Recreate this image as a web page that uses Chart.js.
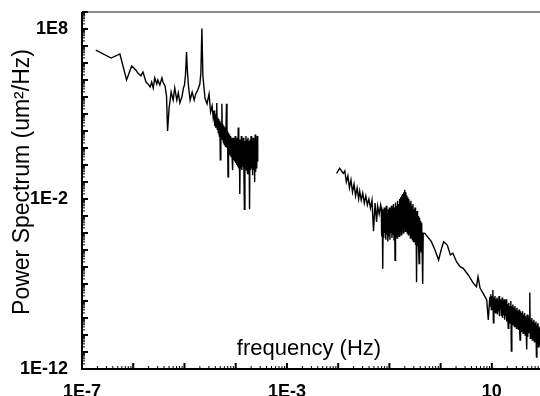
<!DOCTYPE html>
<html>
<head>
<meta charset="utf-8">
<script src="https://cdn.jsdelivr.net/npm/chart.js@4"></script>
<style>
    html, body { margin: 0; background: #fff; }
    #wrap { width: 540px; height: 396px; }
</style>
</head>
<body>
<div id="wrap"><canvas id="spectrumChart"></canvas></div>
<script>

// Low-frequency record: trend part
const lowTrendFreqExp = [
    -6.73, -6.43, -6.26, -6.13, -6.03, -5.95, -5.91, -5.85, -5.81, -5.75,
    -5.71, -5.67, -5.64, -5.61, -5.58, -5.54, -5.52, -5.48, -5.44, -5.42,
    -5.38, -5.35, -5.33, -5.30, -5.26, -5.22, -5.19, -5.15, -5.12, -5.09,
    -5.05, -5.02, -5.00, -4.98, -4.96, -4.94, -4.92, -4.89, -4.85, -4.81,
    -4.78, -4.74, -4.70, -4.68, -4.66, -4.64, -4.62, -4.60, -4.56, -4.52,
    -4.49, -4.46, -4.44
];
const lowTrendPowExp = [
    6.76, 6.29, 6.53, 5.00, 5.82, 5.59, 5.41, 5.24, 5.47, 4.88,
    4.76, 4.59, 4.88, 4.53, 5.12, 4.76, 5.00, 4.71, 5.12, 4.88,
    4.65, 4.06, 2.00, 3.35, 4.29, 3.82, 4.53, 3.82, 4.24, 3.65,
    4.00, 4.53, 4.70, 5.30, 6.65, 5.40, 4.60, 3.82, 4.29, 3.82,
    4.18, 4.41, 4.76, 5.40, 8.03, 5.20, 4.60, 3.94, 3.59, 4.18,
    3.12, 3.47, 2.80
];

// Low-frequency record: noisy tail
const lowNoiseFreqExp = [
    -4.42, -4.41, -4.40, -4.39, -4.38, -4.37, -4.36, -4.35, -4.34, -4.33,
    -4.32, -4.31, -4.30, -4.29, -4.28, -4.27, -4.26, -4.25, -4.24, -4.23,
    -4.22, -4.21, -4.20, -4.19, -4.18, -4.17, -4.16, -4.15, -4.14, -4.13,
    -4.12, -4.11, -4.10, -4.09, -4.08, -4.07, -4.06, -4.05, -4.04, -4.03,
    -4.02, -4.01, -4.00, -3.99, -3.98, -3.97, -3.96, -3.95, -3.94, -3.93,
    -3.92, -3.91, -3.90, -3.89, -3.88, -3.87, -3.86, -3.85, -3.84, -3.83,
    -3.82, -3.81, -3.80, -3.79, -3.78, -3.77, -3.76, -3.75, -3.74, -3.73,
    -3.72, -3.71, -3.70, -3.69, -3.68, -3.67, -3.66, -3.65, -3.64, -3.63,
    -3.62, -3.61, -3.60, -3.59, -3.58, -3.57
];
const lowNoisePowExp = [
    3.2, 2.3, 3.0, 2.2, 2.9, 3.65, 2.1, 2.8, 1.9, 2.7,
    1.7, 2.6, 0.3, 2.5, 1.6, 3.6, 1.5, 2.4, 1.3, 2.3,
    1.2, 2.2, 1.1, 2.1, 3.6, 1.0, 2.0, -0.7, 1.9, 0.8,
    1.8, 0.6, 1.7, 0.5, 1.6, 0.4, -0.3, 1.6, 0.3, 1.5,
    0.2, 1.7, 0.1, 1.5, 0.0, 1.6, -0.1, 2.2, -0.2, 1.5,
    -1.7, 1.4, -0.2, 1.7, -0.3, 1.5, -0.1, 1.6, -0.4, -2.6,
    1.4, -0.2, 1.7, -0.3, 1.5, -0.5, 1.6, -0.1, 1.4, -2.6,
    1.5, -0.3, 1.7, -0.2, 1.4, -0.6, 1.6, -0.3, 1.5, -1.0,
    1.8, -0.4, 1.5, -0.2, 1.7, 0.2
];

// High-frequency record: start
const highStartFreqExp = [
    -2.03, -1.97, -1.90, -1.87, -1.84, -1.81, -1.78, -1.75, -1.72, -1.69,
    -1.66, -1.63, -1.60, -1.58, -1.55, -1.52, -1.49, -1.46, -1.43, -1.40,
    -1.37, -1.34, -1.31, -1.28, -1.25, -1.23, -1.20, -1.17
];
const highStartPowExp = [
    -0.49, -0.19, -0.49, -0.35, -1.00, -0.65, -1.35, -0.88, -1.59, -1.12,
    -1.82, -1.35, -2.00, -1.53, -2.06, -1.65, -2.24, -1.82, -2.35, -2.00,
    -2.53, -2.06, -3.90, -2.24, -3.35, -2.41, -2.88, -2.35
];

// High-frequency record: noisy band with the resonance peak
const highPeakFreqExp = [
    -1.16, -1.15, -1.14, -1.13, -1.12, -1.11, -1.10, -1.09, -1.08, -1.07,
    -1.06, -1.05, -1.04, -1.03, -1.02, -1.01, -1.00, -0.99, -0.98, -0.97,
    -0.96, -0.95, -0.94, -0.93, -0.92, -0.91, -0.90, -0.89, -0.88, -0.87,
    -0.86, -0.85, -0.84, -0.83, -0.82, -0.81, -0.80, -0.79, -0.78, -0.77,
    -0.76, -0.75, -0.74, -0.73, -0.72, -0.71, -0.70, -0.69, -0.68, -0.67,
    -0.66, -0.65, -0.64, -0.63, -0.62, -0.61, -0.60, -0.59, -0.58, -0.57,
    -0.56, -0.55, -0.54, -0.53, -0.52, -0.51, -0.50, -0.49, -0.48, -0.47,
    -0.46, -0.45, -0.44, -0.43, -0.42, -0.41, -0.40, -0.39, -0.38, -0.37,
    -0.36, -0.35, -0.34
];
const highPeakPowExp = [
    -2.5, -4.2, -2.6, -6.1, -2.7, -4.3, -2.5, -4.0, -2.8, -4.4,
    -2.4, -4.1, -2.9, -4.5, -2.6, -4.2, -2.5, -4.4, -2.7, -4.0,
    -2.4, -4.3, -2.6, -4.1, -2.3, -4.4, -2.5, -5.6, -2.2, -4.2,
    -2.4, -4.3, -2.1, -4.0, -2.3, -4.2, -2.0, -3.9, -1.9, -4.1,
    -1.8, -3.8, -1.7, -4.0, -1.6, -3.7, -1.45, -3.9, -1.6, -3.8,
    -1.8, -4.0, -1.9, -4.1, -2.0, -3.9, -2.2, -4.3, -2.1, -4.2,
    -2.4, -4.4, -2.3, -4.5, -2.6, -4.3, -2.5, -4.7, -2.8, -6.9,
    -2.7, -4.8, -3.0, -4.9, -5.8, -3.1, -5.0, -3.3, -5.1, -3.4,
    -5.3, -7.0, -4.0
];

// High-frequency record: smooth stretch
const highMidFreqExp = [
    -0.31, -0.18, -0.11, -0.04, 0.02, 0.06, 0.13, 0.19, 0.24, 0.31,
    0.38, 0.44, 0.54, 0.64, 0.70, 0.73, 0.77, 0.83, 0.90, 0.93,
    0.96
];
const highMidPowExp = [
    -4.02, -4.51, -5.00, -5.59, -4.88, -4.51, -4.71, -5.29, -5.19, -5.69,
    -5.98, -6.08, -6.47, -6.96, -7.16, -6.57, -7.24, -7.55, -7.94, -9.12,
    -7.75
];

// High-frequency record: noisy end
const highTailFreqExp = [
    0.97, 0.98, 0.99, 1.00, 1.01, 1.02, 1.03, 1.04, 1.05, 1.06,
    1.07, 1.08, 1.09, 1.10, 1.11, 1.12, 1.13, 1.14, 1.15, 1.16,
    1.17, 1.18, 1.19, 1.20, 1.21, 1.22, 1.23, 1.24, 1.25, 1.26,
    1.27, 1.28, 1.29, 1.30, 1.31, 1.32, 1.33, 1.34, 1.35, 1.36,
    1.37, 1.38, 1.39, 1.40, 1.41, 1.42, 1.43, 1.44, 1.45, 1.46,
    1.47, 1.48, 1.49, 1.50, 1.51, 1.52, 1.53, 1.54, 1.55, 1.56,
    1.57, 1.58, 1.59, 1.60, 1.61, 1.62, 1.63, 1.64, 1.65, 1.66,
    1.67, 1.68, 1.69, 1.70, 1.71, 1.72, 1.73, 1.74, 1.75, 1.76,
    1.77, 1.78, 1.79, 1.80, 1.81, 1.82, 1.83, 1.84, 1.85, 1.86,
    1.87, 1.88, 1.89, 1.90, 1.91, 1.92, 1.93, 1.94, 1.95
];
const highTailPowExp = [
    -8.3, -7.6, -8.5, -7.7, -8.4, -7.35, -9.28, -7.8, -8.6, -7.7,
    -8.7, -7.9, -8.5, -7.8, -8.8, -7.9, -8.6, -7.7, -8.9, -7.9,
    -8.5, -8.0, -8.9, -7.8, -9.0, -8.0, -8.8, -7.9, -9.1, -8.1,
    -8.9, -7.9, -9.2, -8.2, -9.0, -9.6, -8.1, -9.3, -8.3, -9.1,
    -8.0, -10.95, -8.3, -9.4, -8.2, -9.2, -8.4, -9.5, -8.3, -9.3,
    -8.5, -9.6, -8.4, -9.4, -8.6, -9.7, -8.5, -9.5, -10.3, -8.6,
    -9.8, -8.7, -9.6, -8.6, -9.9, -8.8, -9.7, -8.7, -10.0, -8.9,
    -9.8, -10.85, -8.8, -10.1, -9.0, -9.9, -8.9, -7.5, -10.2, -9.1,
    -10.0, -9.0, -10.3, -9.2, -10.1, -9.1, -10.4, -9.3, -10.2, -9.2,
    -11.3, -9.4, -10.5, -9.3, -10.7, -9.5, -10.6, -9.6, -10.8
];

// Axis tick labels
const xTickValues = [1e-7, 1e-3, 10];
const xTickLabels = ['1E-7', '1E-3', '10'];
const yTickValues = [1e-12, 1e-2, 1e8];
const yTickLabels = ['1E-12', '1E-2', '1E8'];
const xTitle = 'frequency (Hz)';
const yTitle = 'Power Spectrum (um\u00B2/Hz)';

// Turn log10 pairs into chart points
function toPoints(freqExp, powExp) {
    return freqExp.map((f, i) => ({ x: Math.pow(10, f), y: Math.pow(10, powExp[i]) }));
}

const lowRecord = toPoints(lowTrendFreqExp, lowTrendPowExp)
    .concat(toPoints(lowNoiseFreqExp, lowNoisePowExp));
const highRecord = toPoints(highStartFreqExp, highStartPowExp)
    .concat(toPoints(highPeakFreqExp, highPeakPowExp))
    .concat(toPoints(highMidFreqExp, highMidPowExp))
    .concat(toPoints(highTailFreqExp, highTailPowExp));

const fontFamily = "'Liberation Sans', Arial, sans-serif";

// Axis lines, inward ticks and the two titles
const frame = {
    id: 'frame',
    afterDatasetsDraw(chart) {
        const { ctx, chartArea: area, scales: { x, y } } = chart;
        ctx.save();

        // top border
        ctx.strokeStyle = '#666';
        ctx.lineWidth = 1.5;
        ctx.beginPath();
        ctx.moveTo(area.left, area.top);
        ctx.lineTo(area.right, area.top);
        ctx.stroke();

        // left and bottom axes
        ctx.strokeStyle = '#000';
        ctx.lineWidth = 2;
        ctx.beginPath();
        ctx.moveTo(area.left, area.top);
        ctx.lineTo(area.left, area.bottom);
        ctx.lineTo(area.right, area.bottom);
        ctx.stroke();

        // y ticks
        for (let e = -12; e <= 9; e++) {
            for (let k = 1; k <= 9; k++) {
                const v = k * Math.pow(10, e);
                if (v > y.max * 1.0001) continue;
                const py = y.getPixelForValue(v);
                ctx.lineWidth = k === 1 ? 2 : 1;
                ctx.beginPath();
                ctx.moveTo(area.left, py);
                ctx.lineTo(area.left + (k === 1 ? 6 : 3), py);
                ctx.stroke();
            }
        }

        // x ticks
        for (let e = -7; e <= 2; e++) {
            for (let k = 1; k <= 9; k++) {
                const v = k * Math.pow(10, e);
                if (v > x.max) continue;
                const px = x.getPixelForValue(v);
                ctx.lineWidth = k === 1 ? 2 : 1;
                ctx.beginPath();
                ctx.moveTo(px, area.bottom);
                ctx.lineTo(px, area.bottom - (k === 1 ? 6 : 3));
                ctx.stroke();
            }
        }

        // titles
        ctx.fillStyle = '#000';
        ctx.textAlign = 'center';
        ctx.textBaseline = 'alphabetic';
        ctx.font = '22px ' + fontFamily;
        ctx.fillText(xTitle, 309, area.bottom - 14);

        ctx.translate(29, 182);
        ctx.rotate(-Math.PI / 2);
        ctx.font = '23px ' + fontFamily;
        ctx.fillText(yTitle, 0, 0);

        ctx.restore();
    }
};

const ctx = document.getElementById('spectrumChart').getContext('2d');
const spectrumChart = new Chart(ctx, {
    type: 'line',
    data: {
        datasets: [
            {
                label: 'low frequency',
                data: lowRecord,
                borderColor: '#000',
                borderWidth: 1.4,
                pointRadius: 0,
                tension: 0,
                fill: false,
            },
            {
                label: 'high frequency',
                data: highRecord,
                borderColor: '#000',
                borderWidth: 1.4,
                pointRadius: 0,
                tension: 0,
                fill: false,
            },
        ],
    },
    options: {
        responsive: true,
        maintainAspectRatio: false,
        animation: false,
        layout: { padding: 0 },
        plugins: {
            legend: { display: false },
            tooltip: { enabled: false },
        },
        scales: {
            x: {
                type: 'logarithmic',
                position: 'bottom',
                min: 1e-7,
                max: 87,
                grid: { display: false },
                border: { display: false },
                afterBuildTicks: (scale) => { scale.ticks = xTickValues.map((v) => ({ value: v })); },
                afterFit: (scale) => {
                    scale.height = 27;
                    scale.paddingLeft = 0;
                    scale.paddingRight = 0;
                },
                ticks: {
                    autoSkip: false,
                    maxRotation: 0,
                    padding: 4,
                    color: '#000',
                    font: { family: fontFamily, size: 18, weight: 'bold' },
                    callback: (value, index) => xTickLabels[index],
                },
            },
            y: {
                type: 'logarithmic',
                min: 1e-12,
                max: 1e9,
                grid: { display: false },
                border: { display: false },
                afterBuildTicks: (scale) => { scale.ticks = yTickValues.map((v) => ({ value: v })); },
                afterFit: (scale) => {
                    scale.width = 82;
                    scale.paddingTop = 12;
                    scale.paddingBottom = 0;
                },
                ticks: {
                    autoSkip: false,
                    padding: 6,
                    color: '#000',
                    font: { family: fontFamily, size: 18, weight: 'bold' },
                    callback: (value, index) => yTickLabels[index],
                },
            },
        },
    },
    plugins: [frame],
});
</script>
</body>
</html>
